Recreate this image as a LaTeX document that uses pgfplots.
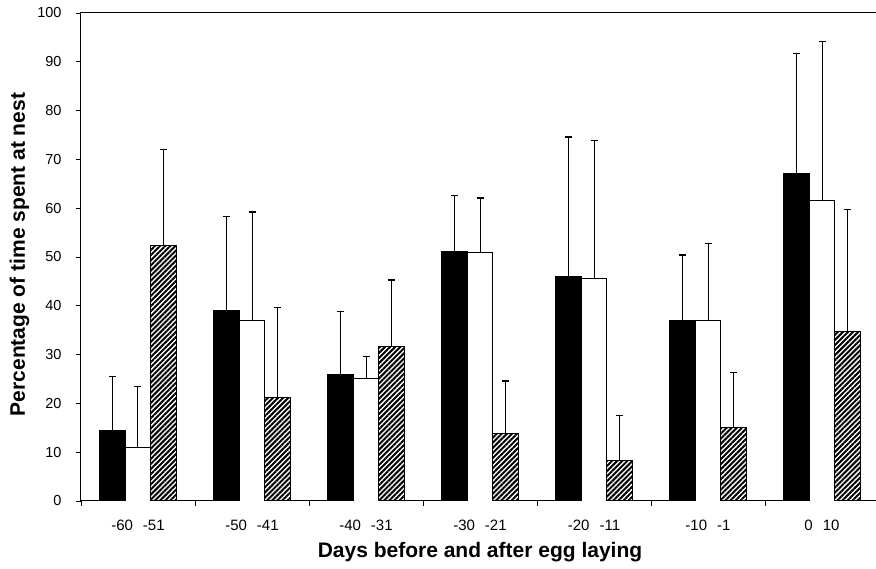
\documentclass[border=0pt]{standalone}
\usepackage{pgfplots}
\pgfplotsset{compat=1.18}
\usepackage{fontspec}
\setmainfont{Liberation Sans}
\usetikzlibrary{patterns.meta}

% time at nest, mean and upper SD, per 10-day block
% groups: 0 = -60/-51 ... 6 = 0/10
\begin{document}
\begin{tikzpicture}
\begin{axis}[
	scale only axis,
	width=798pt, height=488pt,
	xmin=-0.5, xmax=6.5,
	ymin=0, ymax=100,
	ytick={0,10,...,100},
	xtick={-0.5,0.5,...,6.5},
	x tick label as interval,
	xticklabels={-60\hspace{10pt}-51, -50\hspace{10pt}-41, -40\hspace{10pt}-31,
		-30\hspace{10pt}-21, -20\hspace{10pt}-11, -10\hspace{10pt}-1, 0\hspace{10pt}10},
	xtick pos=bottom, ytick pos=left,
	tick align=outside,
	major tick length=5pt,
	tick style={black, line width=0.8pt},
	axis line style={line width=1pt},
	/pgf/number format/assume math mode=true,
	x tick label style={font=\fontsize{15}{17}\selectfont, anchor=base, yshift=-25pt},
	y tick label style={font=\fontsize{14.5}{17}\selectfont, xshift=-11pt},
	xlabel={Days before and after egg laying},
	ylabel={Percentage of time spent at nest},
	label style={font=\fontsize{21}{25}\selectfont\bfseries},
	xlabel style={at={(axis description cs:0.5,-0.1168)}, anchor=base},
	ylabel style={at={(axis description cs:-0.0702,0.505)}, anchor=base},
	ybar=0pt,
	bar width=25.7pt,
	every axis plot/.append style={draw=black, line width=0.9pt},
	error bars/y dir=plus,
	error bars/y explicit,
	error bars/error mark=|,
	error bars/error mark options={black, line width=1.2pt, mark size=3.5pt},
	error bars/error bar style={black, line width=1pt},
]
\addplot[fill=black] coordinates {
	(0,14.5) +- (0,11.0)
	(1,39.1) +- (0,19.2)
	(2,26.0) +- (0,12.8)
	(3,51.2) +- (0,11.4)
	(4,46.1) +- (0,28.5)
	(5,37.0) +- (0,13.4)
	(6,67.1) +- (0,24.6)
};
\addplot[fill=white] coordinates {
	(0,10.9) +- (0,12.5)
	(1,36.9) +- (0,22.3)
	(2,25.1) +- (0,4.5)
	(3,51.0) +- (0,11.1)
	(4,45.6) +- (0,28.3)
	(5,37.0) +- (0,15.8)
	(6,61.5) +- (0,32.6)
};
\addplot[pattern={Lines[angle=45, distance=3.6pt, line width=2pt]}] coordinates {
	(0,52.3) +- (0,19.8)
	(1,21.3) +- (0,18.3)
	(2,31.6) +- (0,13.7)
	(3,13.8) +- (0,10.8)
	(4,8.4) +- (0,9.1)
	(5,15.0) +- (0,11.3)
	(6,34.8) +- (0,24.9)
};
\end{axis}
\pgfresetboundingbox
\path[use as bounding box] ([shift={(-81pt,-68pt)}]current axis.south west)
	rectangle ([shift={(795pt,501pt)}]current axis.south west);
\end{tikzpicture}
\end{document}
